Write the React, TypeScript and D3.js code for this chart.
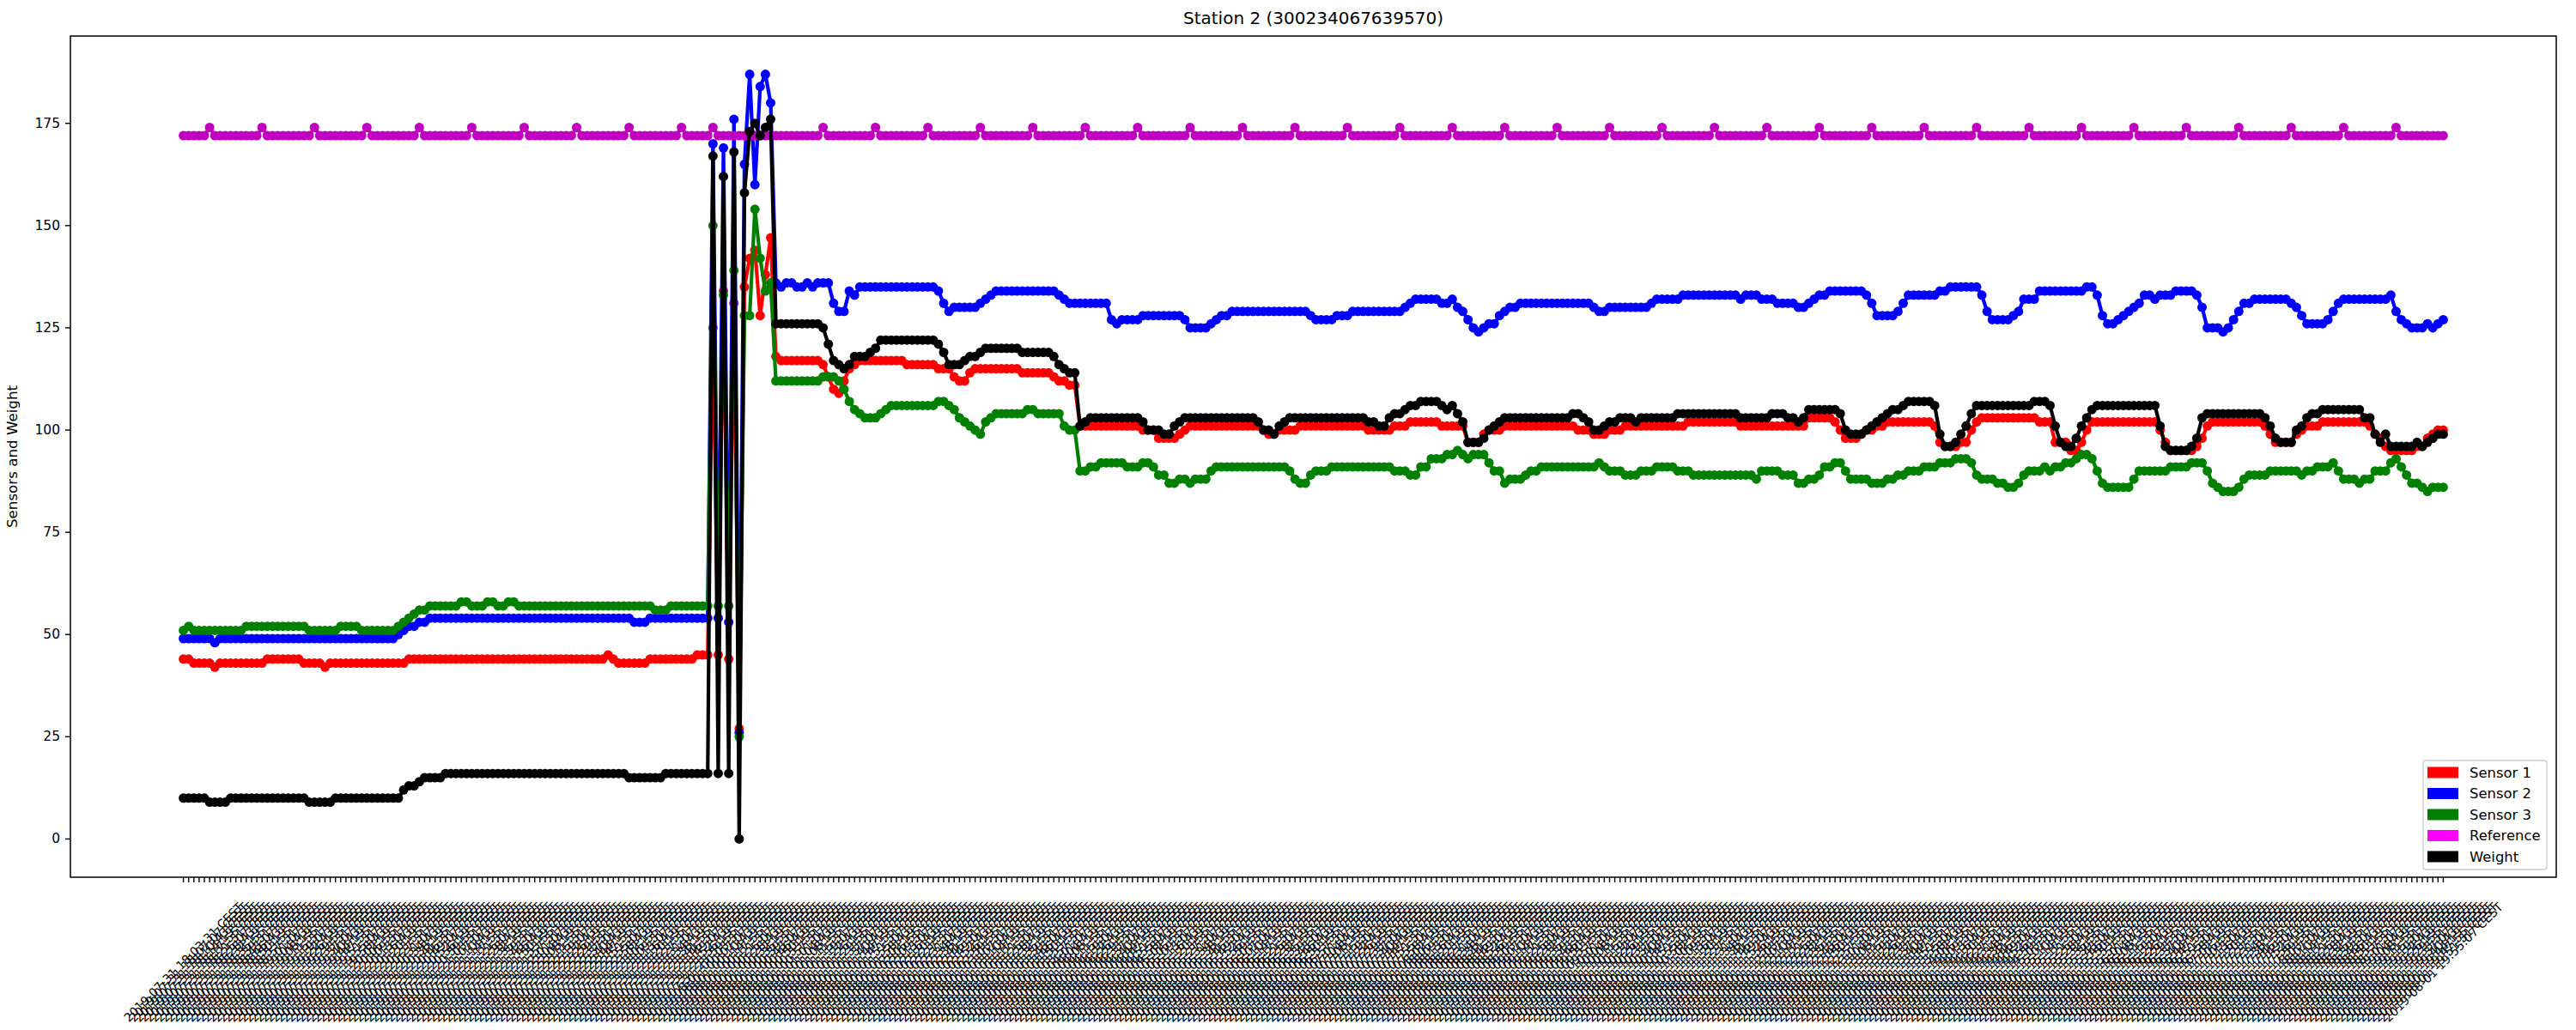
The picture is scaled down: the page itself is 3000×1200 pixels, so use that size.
import React from 'react';
import * as d3 from 'd3';

// Readings, one per timestamp (432 samples)
const sensor1 = [
  44, 44, 43, 43, 43, 43, 42, 43, 43, 43,
  43, 43, 43, 43, 43, 43, 44, 44, 44, 44,
  44, 44, 44, 43, 43, 43, 43, 42, 43, 43,
  43, 43, 43, 43, 43, 43, 43, 43, 43, 43,
  43, 43, 43, 44, 44, 44, 44, 44, 44, 44,
  44, 44, 44, 44, 44, 44, 44, 44, 44, 44,
  44, 44, 44, 44, 44, 44, 44, 44, 44, 44,
  44, 44, 44, 44, 44, 44, 44, 44, 44, 44,
  44, 45, 44, 43, 43, 43, 43, 43, 43, 44,
  44, 44, 44, 44, 44, 44, 44, 44, 45, 45,
  45, 125, 45, 134, 44, 131, 27, 135, 142, 144,
  128, 138, 147, 118, 117, 117, 117, 117, 117, 117,
  117, 117, 116, 113, 110, 109, 112, 115, 116, 117,
  117, 117, 117, 117, 117, 117, 117, 117, 116, 116,
  116, 116, 116, 116, 115, 115, 115, 113, 112, 112,
  114, 115, 115, 115, 115, 115, 115, 115, 115, 115,
  114, 114, 114, 114, 114, 114, 113, 112, 112, 111,
  111, 101, 101, 101, 101, 101, 101, 101, 101, 101,
  101, 101, 101, 100, 100, 100, 98, 98, 98, 98,
  99, 100, 101, 101, 101, 101, 101, 101, 101, 101,
  101, 101, 101, 101, 101, 101, 100, 99, 99, 100,
  100, 100, 100, 101, 101, 101, 101, 101, 101, 101,
  101, 101, 101, 101, 101, 101, 100, 100, 100, 100,
  100, 101, 101, 101, 102, 102, 102, 102, 102, 102,
  101, 101, 101, 101, 101, 97, 97, 97, 99, 100,
  100, 100, 101, 101, 101, 101, 101, 101, 101, 101,
  101, 101, 101, 101, 101, 101, 100, 100, 100, 99,
  99, 99, 100, 100, 100, 101, 101, 101, 101, 101,
  101, 101, 101, 101, 101, 101, 101, 102, 102, 102,
  102, 102, 102, 102, 102, 102, 102, 101, 101, 101,
  101, 101, 101, 101, 101, 101, 101, 101, 101, 101,
  103, 103, 103, 103, 103, 102, 100, 98, 98, 98,
  99, 100, 100, 101, 101, 102, 102, 102, 102, 102,
  102, 102, 102, 102, 101, 97, 96, 96, 96, 97,
  97, 100, 102, 103, 103, 103, 103, 103, 103, 103,
  103, 103, 103, 103, 102, 102, 102, 97, 97, 97,
  95, 95, 97, 100, 102, 102, 102, 102, 102, 102,
  102, 102, 102, 102, 102, 102, 102, 100, 97, 95,
  95, 95, 95, 95, 96, 98, 101, 102, 102, 102,
  102, 102, 102, 102, 102, 102, 102, 101, 99, 97,
  97, 97, 97, 99, 100, 101, 101, 101, 102, 102,
  102, 102, 102, 102, 102, 102, 102, 101, 99, 98,
  96, 95, 95, 95, 95, 95, 96, 96, 98, 99,
  100, 100,
];

const sensor2 = [
  49, 49, 49, 49, 49, 49, 48, 49, 49, 49,
  49, 49, 49, 49, 49, 49, 49, 49, 49, 49,
  49, 49, 49, 49, 49, 49, 49, 49, 49, 49,
  49, 49, 49, 49, 49, 49, 49, 49, 49, 49,
  49, 50, 51, 52, 52, 53, 53, 54, 54, 54,
  54, 54, 54, 54, 54, 54, 54, 54, 54, 54,
  54, 54, 54, 54, 54, 54, 54, 54, 54, 54,
  54, 54, 54, 54, 54, 54, 54, 54, 54, 54,
  54, 54, 54, 54, 54, 54, 53, 53, 53, 54,
  54, 54, 54, 54, 54, 54, 54, 54, 54, 54,
  54, 170, 54, 169, 53, 176, 26, 165, 187, 160,
  184, 187, 180, 136, 135, 136, 136, 135, 135, 136,
  135, 136, 136, 136, 131, 129, 129, 134, 133, 135,
  135, 135, 135, 135, 135, 135, 135, 135, 135, 135,
  135, 135, 135, 135, 134, 131, 129, 130, 130, 130,
  130, 130, 131, 132, 133, 134, 134, 134, 134, 134,
  134, 134, 134, 134, 134, 134, 134, 133, 132, 131,
  131, 131, 131, 131, 131, 131, 131, 127, 126, 127,
  127, 127, 127, 128, 128, 128, 128, 128, 128, 128,
  128, 127, 125, 125, 125, 125, 126, 127, 128, 128,
  129, 129, 129, 129, 129, 129, 129, 129, 129, 129,
  129, 129, 129, 129, 129, 128, 127, 127, 127, 127,
  128, 128, 128, 129, 129, 129, 129, 129, 129, 129,
  129, 129, 129, 130, 131, 132, 132, 132, 132, 132,
  131, 131, 132, 130, 129, 127, 125, 124, 125, 126,
  126, 128, 129, 130, 130, 131, 131, 131, 131, 131,
  131, 131, 131, 131, 131, 131, 131, 131, 131, 130,
  129, 129, 130, 130, 130, 130, 130, 130, 130, 130,
  131, 132, 132, 132, 132, 132, 133, 133, 133, 133,
  133, 133, 133, 133, 133, 133, 133, 132, 133, 133,
  133, 132, 132, 132, 131, 131, 131, 131, 130, 130,
  131, 132, 133, 133, 134, 134, 134, 134, 134, 134,
  134, 133, 131, 128, 128, 128, 128, 129, 131, 133,
  133, 133, 133, 133, 133, 134, 134, 135, 135, 135,
  135, 135, 135, 133, 129, 127, 127, 127, 127, 128,
  129, 132, 132, 132, 134, 134, 134, 134, 134, 134,
  134, 134, 134, 135, 135, 133, 128, 126, 126, 127,
  128, 129, 130, 131, 133, 133, 132, 133, 133, 133,
  134, 134, 134, 134, 133, 130, 125, 125, 125, 124,
  125, 127, 129, 131, 131, 132, 132, 132, 132, 132,
  132, 132, 131, 130, 128, 126, 126, 126, 126, 127,
  129, 131, 132, 132, 132, 132, 132, 132, 132, 132,
  132, 133, 129, 127, 126, 125, 125, 125, 126, 125,
  126, 127,
];

const sensor3 = [
  51, 52, 51, 51, 51, 51, 51, 51, 51, 51,
  51, 51, 52, 52, 52, 52, 52, 52, 52, 52,
  52, 52, 52, 52, 51, 51, 51, 51, 51, 51,
  52, 52, 52, 52, 51, 51, 51, 51, 51, 51,
  51, 52, 53, 54, 55, 56, 56, 57, 57, 57,
  57, 57, 57, 58, 58, 57, 57, 57, 58, 58,
  57, 57, 58, 58, 57, 57, 57, 57, 57, 57,
  57, 57, 57, 57, 57, 57, 57, 57, 57, 57,
  57, 57, 57, 57, 57, 57, 57, 57, 57, 57,
  56, 56, 56, 57, 57, 57, 57, 57, 57, 57,
  57, 150, 57, 133, 57, 139, 25, 128, 128, 154,
  142, 134, 136, 112, 112, 112, 112, 112, 112, 112,
  112, 112, 113, 113, 113, 112, 110, 107, 105, 104,
  103, 103, 103, 104, 105, 106, 106, 106, 106, 106,
  106, 106, 106, 106, 107, 107, 106, 105, 103, 102,
  101, 100, 99, 102, 103, 104, 104, 104, 104, 104,
  104, 105, 105, 104, 104, 104, 104, 104, 101, 100,
  100, 90, 90, 91, 91, 92, 92, 92, 92, 92,
  91, 91, 91, 92, 92, 91, 89, 89, 87, 87,
  88, 88, 87, 88, 88, 88, 90, 91, 91, 91,
  91, 91, 91, 91, 91, 91, 91, 91, 91, 91,
  91, 90, 88, 87, 87, 89, 90, 90, 90, 91,
  91, 91, 91, 91, 91, 91, 91, 91, 91, 91,
  91, 90, 90, 90, 89, 89, 91, 91, 93, 93,
  93, 94, 94, 95, 94, 93, 94, 94, 94, 92,
  90, 90, 87, 88, 88, 88, 89, 90, 90, 91,
  91, 91, 91, 91, 91, 91, 91, 91, 91, 91,
  92, 91, 90, 90, 90, 89, 89, 89, 90, 90,
  90, 91, 91, 91, 91, 90, 90, 90, 89, 89,
  89, 89, 89, 89, 89, 89, 89, 89, 89, 89,
  88, 90, 90, 90, 90, 89, 89, 89, 87, 87,
  88, 88, 89, 91, 91, 92, 92, 90, 88, 88,
  88, 88, 87, 87, 87, 88, 88, 89, 89, 90,
  90, 90, 91, 91, 91, 92, 92, 92, 93, 93,
  93, 92, 89, 88, 88, 88, 87, 87, 86, 86,
  87, 89, 90, 90, 90, 91, 90, 91, 91, 92,
  92, 93, 94, 94, 93, 90, 87, 86, 86, 86,
  86, 86, 88, 90, 90, 90, 90, 90, 90, 91,
  91, 91, 91, 92, 92, 92, 90, 87, 86, 85,
  85, 85, 86, 88, 89, 89, 89, 89, 90, 90,
  90, 90, 90, 90, 89, 90, 90, 91, 91, 91,
  92, 90, 88, 88, 88, 87, 88, 88, 90, 90,
  90, 92, 93, 91, 89, 87, 87, 86, 85, 86,
  86, 86,
];

const reference = [
  172, 172, 172, 172, 172, 174, 172, 172, 172, 172,
  172, 172, 172, 172, 172, 174, 172, 172, 172, 172,
  172, 172, 172, 172, 172, 174, 172, 172, 172, 172,
  172, 172, 172, 172, 172, 174, 172, 172, 172, 172,
  172, 172, 172, 172, 172, 174, 172, 172, 172, 172,
  172, 172, 172, 172, 172, 174, 172, 172, 172, 172,
  172, 172, 172, 172, 172, 174, 172, 172, 172, 172,
  172, 172, 172, 172, 172, 174, 172, 172, 172, 172,
  172, 172, 172, 172, 172, 174, 172, 172, 172, 172,
  172, 172, 172, 172, 172, 174, 172, 172, 172, 172,
  172, 174, 172, 172, 172, 172, 172, 172, 172, 172,
  172, 172, 172, 172, 172, 172, 172, 172, 172, 172,
  172, 172, 174, 172, 172, 172, 172, 172, 172, 172,
  172, 172, 174, 172, 172, 172, 172, 172, 172, 172,
  172, 172, 174, 172, 172, 172, 172, 172, 172, 172,
  172, 172, 174, 172, 172, 172, 172, 172, 172, 172,
  172, 172, 174, 172, 172, 172, 172, 172, 172, 172,
  172, 172, 174, 172, 172, 172, 172, 172, 172, 172,
  172, 172, 174, 172, 172, 172, 172, 172, 172, 172,
  172, 172, 174, 172, 172, 172, 172, 172, 172, 172,
  172, 172, 174, 172, 172, 172, 172, 172, 172, 172,
  172, 172, 174, 172, 172, 172, 172, 172, 172, 172,
  172, 172, 174, 172, 172, 172, 172, 172, 172, 172,
  172, 172, 174, 172, 172, 172, 172, 172, 172, 172,
  172, 172, 174, 172, 172, 172, 172, 172, 172, 172,
  172, 172, 174, 172, 172, 172, 172, 172, 172, 172,
  172, 172, 174, 172, 172, 172, 172, 172, 172, 172,
  172, 172, 174, 172, 172, 172, 172, 172, 172, 172,
  172, 172, 174, 172, 172, 172, 172, 172, 172, 172,
  172, 172, 174, 172, 172, 172, 172, 172, 172, 172,
  172, 172, 174, 172, 172, 172, 172, 172, 172, 172,
  172, 172, 174, 172, 172, 172, 172, 172, 172, 172,
  172, 172, 174, 172, 172, 172, 172, 172, 172, 172,
  172, 172, 174, 172, 172, 172, 172, 172, 172, 172,
  172, 172, 174, 172, 172, 172, 172, 172, 172, 172,
  172, 172, 174, 172, 172, 172, 172, 172, 172, 172,
  172, 172, 174, 172, 172, 172, 172, 172, 172, 172,
  172, 172, 174, 172, 172, 172, 172, 172, 172, 172,
  172, 172, 174, 172, 172, 172, 172, 172, 172, 172,
  172, 172, 174, 172, 172, 172, 172, 172, 172, 172,
  172, 172, 174, 172, 172, 172, 172, 172, 172, 172,
  172, 172, 174, 172, 172, 172, 172, 172, 172, 172,
  172, 172, 174, 172, 172, 172, 172, 172, 172, 172,
  172, 172,
];

const weight = [
  10, 10, 10, 10, 10, 9, 9, 9, 9, 10,
  10, 10, 10, 10, 10, 10, 10, 10, 10, 10,
  10, 10, 10, 10, 9, 9, 9, 9, 9, 10,
  10, 10, 10, 10, 10, 10, 10, 10, 10, 10,
  10, 10, 12, 13, 13, 14, 15, 15, 15, 15,
  16, 16, 16, 16, 16, 16, 16, 16, 16, 16,
  16, 16, 16, 16, 16, 16, 16, 16, 16, 16,
  16, 16, 16, 16, 16, 16, 16, 16, 16, 16,
  16, 16, 16, 16, 16, 15, 15, 15, 15, 15,
  15, 15, 16, 16, 16, 16, 16, 16, 16, 16,
  16, 167, 16, 162, 16, 168, 0, 158, 173, 175,
  172, 174, 176, 126, 126, 126, 126, 126, 126, 126,
  126, 126, 125, 121, 117, 116, 115, 116, 118, 118,
  118, 119, 120, 122, 122, 122, 122, 122, 122, 122,
  122, 122, 122, 122, 121, 119, 116, 116, 116, 117,
  118, 118, 119, 120, 120, 120, 120, 120, 120, 120,
  119, 119, 119, 119, 119, 119, 118, 116, 115, 114,
  114, 101, 102, 103, 103, 103, 103, 103, 103, 103,
  103, 103, 103, 102, 100, 100, 100, 99, 99, 101,
  102, 103, 103, 103, 103, 103, 103, 103, 103, 103,
  103, 103, 103, 103, 103, 102, 100, 100, 99, 101,
  102, 103, 103, 103, 103, 103, 103, 103, 103, 103,
  103, 103, 103, 103, 103, 103, 102, 102, 101, 101,
  103, 104, 104, 105, 106, 106, 107, 107, 107, 107,
  106, 105, 106, 104, 102, 97, 97, 97, 98, 100,
  101, 102, 103, 103, 103, 103, 103, 103, 103, 103,
  103, 103, 103, 103, 103, 104, 104, 103, 102, 100,
  100, 101, 102, 102, 103, 103, 103, 102, 103, 103,
  103, 103, 103, 103, 103, 104, 104, 104, 104, 104,
  104, 104, 104, 104, 104, 104, 104, 103, 103, 103,
  103, 103, 103, 104, 104, 104, 103, 103, 102, 103,
  105, 105, 105, 105, 105, 105, 104, 100, 99, 99,
  99, 100, 101, 102, 103, 104, 105, 105, 106, 107,
  107, 107, 107, 107, 106, 99, 96, 96, 97, 99,
  101, 104, 106, 106, 106, 106, 106, 106, 106, 106,
  106, 106, 106, 107, 107, 107, 106, 101, 97, 96,
  96, 98, 101, 103, 105, 106, 106, 106, 106, 106,
  106, 106, 106, 106, 106, 106, 106, 101, 96, 95,
  95, 95, 95, 96, 98, 103, 104, 104, 104, 104,
  104, 104, 104, 104, 104, 104, 104, 103, 101, 98,
  97, 97, 97, 100, 101, 103, 104, 104, 105, 105,
  105, 105, 105, 105, 105, 105, 103, 103, 99, 97,
  99, 96, 96, 96, 96, 96, 97, 96, 97, 98,
  99, 99,
];

// x tick labels: one timestamp per sample
const firstTimestamp = '2019-07-31 18:03:31';
const sampleSeconds = 216;
const timeZone = 'CEST';

const yTickValues = [0, 25, 50, 75, 100, 125, 150, 175];

const seriesNames = ['Sensor 1', 'Sensor 2', 'Sensor 3', 'Reference', 'Weight'];
const lineColors = ['#ff0000', '#0000ff', '#008000', '#bf00bf', '#000000'];
const legendColors = ['#ff0000', '#0000ff', '#008000', '#ff00ff', '#000000'];

const W = 3000;
const H = 1200;
const plot = { left: 82, right: 2977, top: 42, bottom: 1022 };

const App = () => {
  const allSeries = [sensor1, sensor2, sensor3, reference, weight];
  const n = sensor1.length;

  const parse = d3.utcParse('%Y-%m-%d %H:%M:%S');
  const fmt = d3.utcFormat('%Y-%m-%d %H:%M:%S');
  const t0 = parse(firstTimestamp) as Date;
  const tickLabels = sensor1.map((_, i) => `${fmt(d3.utcSecond.offset(t0, i * sampleSeconds))} ${timeZone}`);

  // matplotlib-style 5% margins
  const x = d3.scaleLinear()
    .domain([-0.05 * (n - 1), 1.05 * (n - 1)])
    .range([plot.left, plot.right]);

  const lo = d3.min(allSeries, s => d3.min(s)) as number;
  const hi = d3.max(allSeries, s => d3.max(s)) as number;
  const pad = (hi - lo) * 0.05;
  const y = d3.scaleLinear()
    .domain([lo - pad, hi + pad])
    .range([plot.bottom, plot.top]);

  const line = d3.line<number>()
    .x((_, i) => x(i))
    .y(d => y(d));

  const legendX = 2822;
  const legendY = 886;
  const rowH = 24.5;

  return (
    <svg
      width={W}
      height={H}
      style={{ position: 'absolute', left: 0, top: 0, background: '#fff' }}
      fontFamily="DejaVu Sans"
    >
      <text x={(plot.left + plot.right) / 2} y={28} textAnchor="middle" fontSize={20}>
        Station 2 (300234067639570)
      </text>

      <defs>
        <clipPath id="plot-area">
          <rect x={plot.left} y={plot.top} width={plot.right - plot.left} height={plot.bottom - plot.top} />
        </clipPath>
      </defs>

      <g clipPath="url(#plot-area)">
        {allSeries.map((s, k) => (
          <g key={seriesNames[k]}>
            <path d={line(s) || ''} fill="none" stroke={lineColors[k]} strokeWidth={4.2} strokeLinejoin="round" />
            {s.map((v, i) => (
              <circle key={i} cx={x(i)} cy={y(v)} r={5.5} fill={lineColors[k]} />
            ))}
          </g>
        ))}
      </g>

      <rect
        x={plot.left}
        y={plot.top}
        width={plot.right - plot.left}
        height={plot.bottom - plot.top}
        fill="none"
        stroke="#000"
        strokeWidth={1.5}
      />

      {/* y axis */}
      {yTickValues.map(v => (
        <g key={v}>
          <line x1={plot.left - 6} x2={plot.left} y1={y(v)} y2={y(v)} stroke="#000" strokeWidth={1.4} />
          <text x={plot.left - 12} y={y(v)} textAnchor="end" dominantBaseline="central" fontSize={15.5}>
            {v}
          </text>
        </g>
      ))}
      <text
        transform={`translate(14,${(plot.top + plot.bottom) / 2}) rotate(-90)`}
        textAnchor="middle"
        dominantBaseline="central"
        fontSize={16.7}
      >
        Sensors and Weight
      </text>

      {/* x axis */}
      {tickLabels.map((t, i) => (
        <g key={i}>
          <line x1={x(i)} x2={x(i)} y1={plot.bottom} y2={plot.bottom + 6} stroke="#000" strokeWidth={1.4} />
          <text
            transform={`translate(${x(i)},1121) rotate(-45)`}
            textAnchor="middle"
            dominantBaseline="central"
            fontSize={14}
          >
            {t}
          </text>
        </g>
      ))}

      {/* legend */}
      <rect
        x={legendX}
        y={legendY}
        width={144}
        height={127}
        rx={3}
        fill="#fff"
        fillOpacity={0.8}
        stroke="#cccccc"
        strokeWidth={1.3}
      />
      {seriesNames.map((name, k) => (
        <g key={name} transform={`translate(${legendX},${legendY + 14 + k * rowH})`}>
          <rect x={5} y={-6.5} width={36} height={13} fill={legendColors[k]} />
          <text x={54} y={0} dominantBaseline="central" fontSize={16.4}>
            {name}
          </text>
        </g>
      ))}
    </svg>
  );
};

export default App;
